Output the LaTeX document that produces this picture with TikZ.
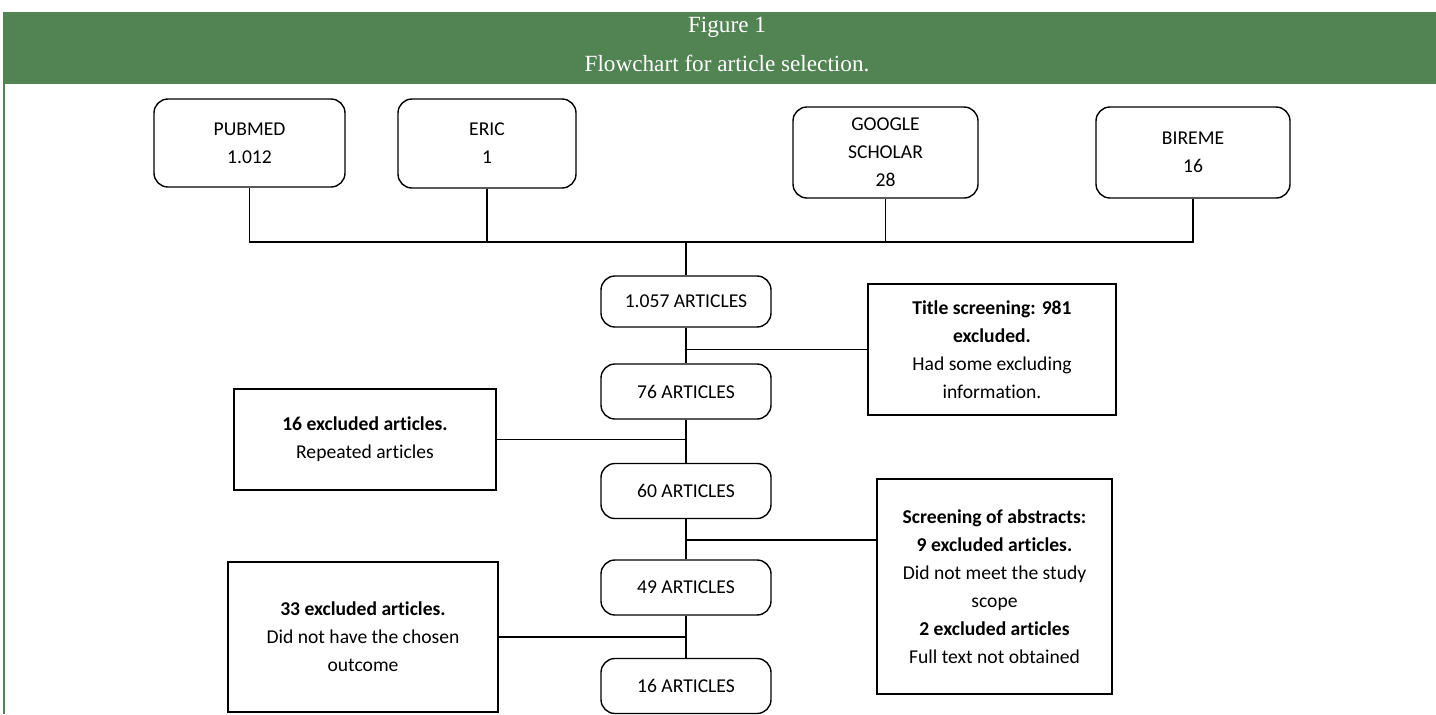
\documentclass[tikz,border=0pt]{standalone}
\usepackage{fontspec}
\setmainfont{Carlito}[RawFeature=-liga]
\newfontfamily\capfont{Liberation Serif}
\usetikzlibrary{positioning}
\definecolor{headgreen}{RGB}{81,131,83}

\begin{document}
\begin{tikzpicture}[
    x=0.5pt, y=-0.5pt,
    font=\fontsize{9.8}{14}\selectfont,
    src/.style={rectangle, draw, rounded corners=7pt, line width=0.7pt, align=center, inner sep=0pt},
    count/.style={src, minimum width=85pt, minimum height=27.5pt},
    excl/.style={rectangle, draw, line width=0.7pt, align=center, inner sep=0pt},
    link/.style={line width=0.7pt},
    caption/.style={text=white, font=\capfont\fontsize{11.6}{13}\selectfont}
]
\useasboundingbox (0,0) rectangle (1436,714);

% header band
\fill[headgreen] (3,12) rectangle (1436,84);
\draw[headgreen, line width=1.2pt] (4,84) -- (4,714);
\node[caption] (figno) at (727,27) {Figure 1};
\node[caption] (figtitle) at (727,63) {Flowchart for article selection.};

% databases
\node[src, minimum width=95.5pt, minimum height=44pt] (pubmed) at (249.5,143) {PUBMED\\1.012};
\node[src, minimum width=89pt, minimum height=44.5pt] (eric) at (487,143.5) {ERIC\\1};
\node[src, minimum width=92.5pt, minimum height=45.5pt] (scholar) at (885.5,152.5) {GOOGLE\\SCHOLAR\\28};
\node[src, minimum width=97pt, minimum height=45.5pt] (bireme) at (1193,152.5) {BIREME\\16};
\coordinate (bus) at (686,242);

% selection steps
\node[count, minimum height=25.5pt] (art1057) at (686,301.5) {1.057 ARTICLES};
\node[count] (art76) at (686,391.5) {76 ARTICLES};
\node[count] (art60) at (686,491) {60 ARTICLES};
\node[count] (art49) at (686,587.5) {49 ARTICLES};
\node[count] (art16) at (686,686) {16 ARTICLES};

% exclusions
\node[excl, minimum width=124pt, minimum height=65.5pt] (title) at (992,349.5)
    {\textbf{Title screening: 981}\\\textbf{excluded.}\\Had some excluding\\information.};
\node[excl, minimum width=131pt, minimum height=50.5pt] (repeat) at (365,439.5)
    {\textbf{16 excluded articles.}\\Repeated articles};
\node[excl, minimum width=117.5pt, minimum height=107.5pt] (abstr) at (994.5,586.5)
    {\textbf{Screening of abstracts:}\\\textbf{9 excluded articles.}\\Did not meet the study\\scope\\\textbf{2 excluded articles}\\Full text not obtained};
\node[excl, minimum width=135pt, minimum height=75pt] (outcome) at (363,637)
    {\textbf{33 excluded articles.}\\Did not have the chosen\\outcome};
\coordinate (abstrjoin) at (686,540);

% connectors
\foreach \db in {pubmed, eric, scholar, bireme}
    \draw[link] (\db.south) |- (bus);
\draw[link] (bus) -- (art1057);
\draw[link] (art1057) -- (art76);
\draw[link] (art76) -- (art60);
\draw[link] (art60) -- (art49);
\draw[link] (art49) -- (art16);
\draw[link] (title.west) -- (title.west -| art76.north);
\draw[link] (repeat.east) -- (repeat.east -| art60.north);
\draw[link] (abstrjoin) -- (abstrjoin -| abstr.west);
\draw[link] (outcome.east) -- (outcome.east -| art16.north);

\end{tikzpicture}
\end{document}
